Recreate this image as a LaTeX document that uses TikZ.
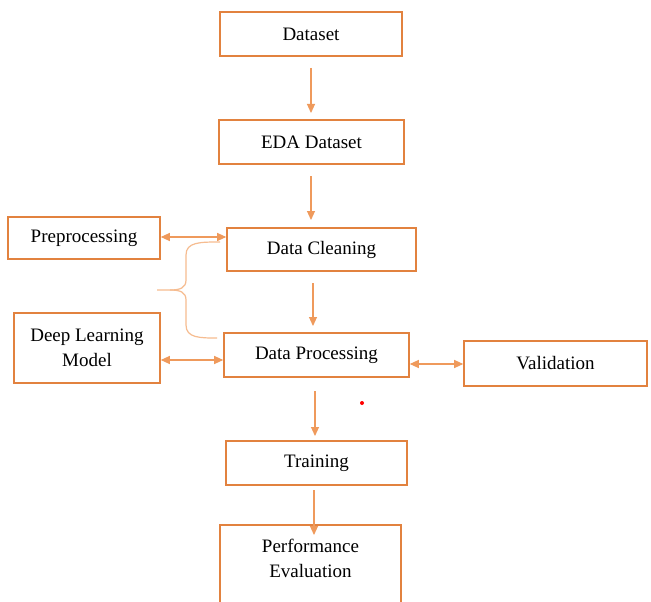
\documentclass[tikz,border=0pt]{standalone}
\usepackage{fontspec}
\setmainfont{Liberation Serif}
\usetikzlibrary{arrows.meta}
\definecolor{boxc}{HTML}{E2823F}
\definecolor{arrc}{HTML}{EF9A5C}
\definecolor{bracec}{HTML}{F6BC90}
\begin{document}
\begin{tikzpicture}[x=1pt,y=-1pt,
  box/.style={draw=boxc,line width=1.6pt,rectangle,inner sep=0pt,align=center,font=\fontsize{19}{25}\selectfont},
  arr/.style={draw=arrc,line width=1.1pt,-{Triangle[length=9pt,width=8pt]}},
  darr/.style={draw=arrc,line width=1.1pt,{Triangle[length=9pt,width=8pt]}-{Triangle[length=9pt,width=8pt]}}]
\useasboundingbox (0,0) rectangle (651,602);
\fill[white] (0,0) rectangle (651,602);
\begin{scope}
\clip (0,0) rectangle (651,602);
\node[box,minimum width=182pt,minimum height=44pt] (ds) at (311,34) {Dataset};
\node[box,minimum width=185pt,minimum height=44pt] (eda) at (311.5,142) {EDA Dataset};
\node[box,minimum width=152pt,minimum height=42pt] (pre) at (84,238) {Preprocessing};
\node[box,minimum width=189pt,minimum height=43pt] (dc) at (321.5,249.5) {Data Cleaning};
\node[box,minimum width=146pt,minimum height=70pt] (dl) at (87,348) {Deep Learning\\Model};
\node[box,minimum width=185pt,minimum height=44pt] (dp) at (316.5,355) {Data Processing};
\node[box,minimum width=183pt,minimum height=45pt] (val) at (555.5,363.5) {Validation};
\node[box,minimum width=181pt,minimum height=44pt] (tr) at (316.5,463) {Training};
\node[box,minimum width=181pt,minimum height=110pt] (perf) at (310.5,580) {};
\node[font=\fontsize{19}{25}\selectfont,align=center,inner sep=0pt] (perft) at (310.5,558) {Performance\\Evaluation};
\end{scope}
\coordinate (a1s) at (311,68); \coordinate (a1e) at (311,113);
\coordinate (a2s) at (311,176); \coordinate (a2e) at (311,220);
\coordinate (a3s) at (313,283); \coordinate (a3e) at (313,326);
\coordinate (a4s) at (315,391); \coordinate (a4e) at (315,436);
\coordinate (a5s) at (314,490); \coordinate (a5e) at (314,535);
\draw[arr] (a1s) -- (a1e);
\draw[arr] (a2s) -- (a2e);
\draw[arr] (a3s) -- (a3e);
\draw[arr] (a4s) -- (a4e);
\draw[arr] (a5s) -- (a5e);
\draw[darr] (pre.east |- 0,237) -- (dc.west |- 0,237);
\draw[darr] (dl.east |- 0,360) -- (dp.west |- 0,360);
\draw[darr] (dp.east |- 0,364) -- (val.west |- 0,364);
\coordinate (bt) at (220,242);
\coordinate (bb) at (217,338);
\coordinate (btip) at (157,290);
\draw[bracec,line width=1.2pt] (bt) .. controls (200,242) and (186,242) .. (186,255)
  -- (186,280) .. controls (186,288) and (180,290) .. (170,290) -- (btip);
\draw[bracec,line width=1.2pt] (bb) .. controls (200,338) and (186,338) .. (186,325)
  -- (186,300) .. controls (186,292) and (180,290) .. (170,290);
\node[circle,fill=red,inner sep=0pt,minimum size=4pt] (dot) at (362,403) {};
\end{tikzpicture}
\end{document}
